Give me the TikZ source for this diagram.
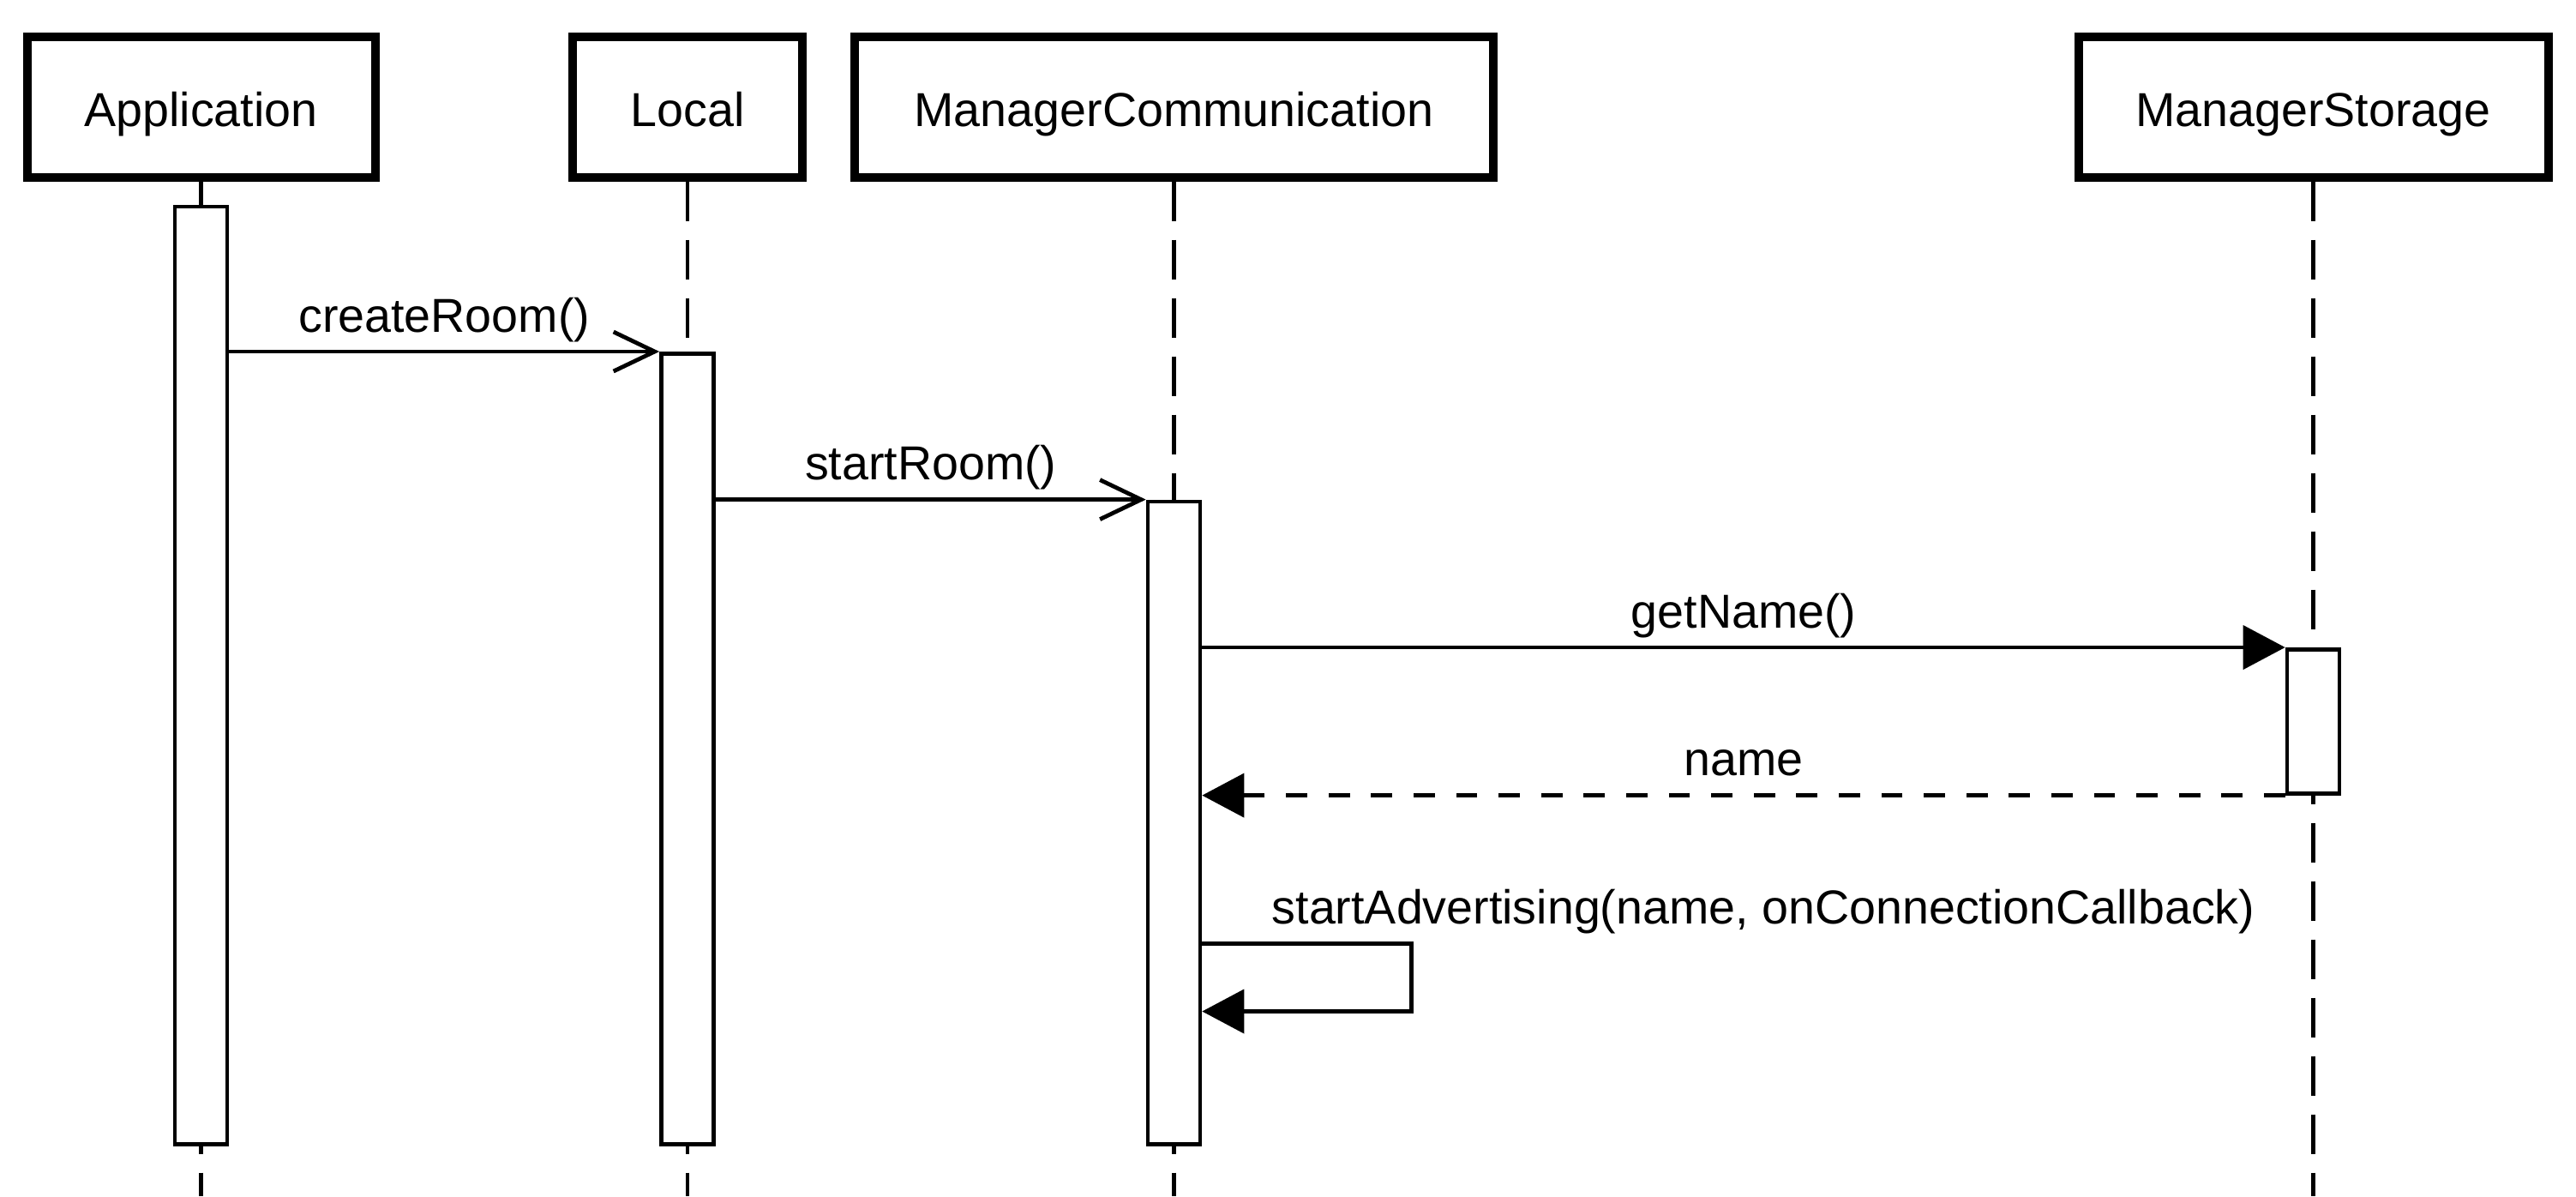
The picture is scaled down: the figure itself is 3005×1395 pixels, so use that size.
\documentclass[tikz,border=0pt]{standalone}
\usepackage{fontspec}
\setmainfont{Liberation Sans}
\usetikzlibrary{arrows.meta,positioning}
\tikzset{
	head/.style={draw,line width=2.5pt,minimum height=41pt,inner sep=0pt,
		text height=11.4pt,text depth=0pt,font=\fontsize{13.9}{16}\selectfont},
	bar/.style={draw,fill=white,line width=1.15pt,minimum width=15.25pt,inner sep=0pt,anchor=north},
	lifeline/.style={line width=1.15pt,dash pattern=on 11.5pt off 5.5pt},
	msgtext/.style={inner sep=0pt,font=\fontsize{13.9}{16}\selectfont},
	msg/.style={msgtext,midway,anchor=base,yshift=5.75pt},
	call/.style={line width=1.2pt,-{Straight Barb[length=12pt,width=11.5pt]}},
	sync/.style={line width=1.2pt,-{Triangle[length=12.25pt,width=12.7pt]}},
	reply/.style={sync,dash pattern=on 6.2pt off 6.2pt},
}
\begin{document}
\begin{tikzpicture}[x=0.25pt,y=-0.25pt]
				\pgfmathsetmacro\XApp{234.5}
				\pgfmathsetmacro\XLoc{802}
				\pgfmathsetmacro\XCom{1369.5}
				\pgfmathsetmacro\XSto{2698.5}
				\pgfmathsetmacro\YHead{124.5}
				\pgfmathsetmacro\YEnd{1395}
				\useasboundingbox (0,0) rectangle (3005,1395);
				\coordinate (AppEnd) at (\XApp,\YEnd);
				\coordinate (LocEnd) at (\XLoc,\YEnd);
				\coordinate (ComEnd) at (\XCom,\YEnd);
				\coordinate (StoEnd) at (\XSto,\YEnd);
				\coordinate (LoopTop) at (1646.5,1100.5);
				\coordinate (LoopBot) at (1646.5,1179.5);

				% heads and lifelines
				\node[head,minimum width=101.5pt] (App) at (\XApp,\YHead) {Application};
				\node[head,minimum width=67pt] (Loc) at (\XLoc,\YHead) {Local};
				\node[head,minimum width=186.25pt] (Com) at (\XCom,\YHead) {ManagerCommunication};
				\node[head,minimum width=137pt] (Sto) at (\XSto,\YHead) {ManagerStorage};
				\draw[lifeline] (App) -- (AppEnd);
				\draw[lifeline] (Loc) -- (LocEnd);
				\draw[lifeline] (Com) -- (ComEnd);
				\draw[lifeline] (Sto) -- (StoEnd);

				% activations
				\node[bar,minimum height=273.4pt] (AppBar) at (\XApp,238.5) {};
				\node[bar,minimum height=230.5pt] (LocBar) at (\XLoc,410) {};
				\node[bar,minimum height=187.35pt] (ComBar) at (\XCom,582.6) {};
				\node[bar,minimum height=42pt] (StoBar) at (\XSto,755) {};

				% messages
				\draw[call] (AppBar.east |- LocBar.north) -- node[msg] {createRoom()} (LocBar.north west);
				\draw[call] (LocBar.east |- ComBar.north) -- node[msg] {startRoom()} (ComBar.north west);
				\draw[sync] (ComBar.east |- StoBar.north) -- node[msg] {getName()} (StoBar.north west);
				\draw[reply] (StoBar.south west) -- node[msg] {name} (ComBar.east |- StoBar.south);
				\draw[sync] (ComBar.east |- LoopTop) -- (LoopTop) -- (LoopBot) -- (ComBar.east |- LoopBot);
				\node[msgtext,anchor=base west] (AdvLabel) at (1483,1077.5) {startAdvertising(name, onConnectionCallback)};
			\end{tikzpicture}
\end{document}
